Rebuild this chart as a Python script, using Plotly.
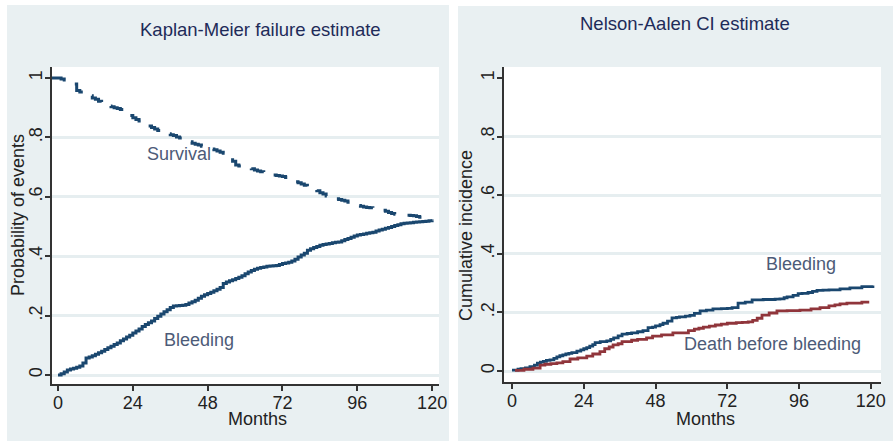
import plotly.graph_objects as go

# ---------------- data ----------------
km_surv_t = [-2] + list(range(1, 121))
km_surv_v = [1.000, 0.997, 0.993, 0.990, 0.985, 0.980, 0.958, 0.953, 0.948, 0.944, 0.940,
             0.933, 0.928, 0.922, 0.916, 0.910, 0.906, 0.903, 0.900, 0.897, 0.894,
             0.890, 0.882, 0.874, 0.866, 0.860, 0.855, 0.849, 0.843, 0.838, 0.833,
             0.828, 0.823, 0.818, 0.815, 0.812, 0.809, 0.806, 0.801, 0.798, 0.793,
             0.789, 0.785, 0.780, 0.777, 0.774, 0.770, 0.767, 0.764, 0.761, 0.758,
             0.754, 0.750, 0.747, 0.741, 0.733, 0.720, 0.707, 0.704, 0.701, 0.699,
             0.696, 0.694, 0.690, 0.687, 0.684, 0.681, 0.677, 0.675, 0.673, 0.672,
             0.670, 0.668, 0.665, 0.660, 0.656, 0.651, 0.647, 0.643, 0.639, 0.635,
             0.630, 0.626, 0.620, 0.614, 0.609, 0.603, 0.599, 0.596, 0.593, 0.591,
             0.588, 0.586, 0.582, 0.578, 0.574, 0.571, 0.568, 0.566, 0.564, 0.563,
             0.561, 0.560, 0.558, 0.555, 0.551, 0.547, 0.544, 0.541, 0.539, 0.539,
             0.538, 0.538, 0.537, 0.536, 0.534, 0.531, 0.528, 0.526, 0.524, 0.522]

km_bleed_t = list(range(0, 121))
km_bleed_v = [0.000, 0.004, 0.010, 0.017, 0.020, 0.023, 0.026, 0.030, 0.040, 0.057, 0.061,
              0.065, 0.070, 0.075, 0.080, 0.086, 0.092, 0.097, 0.103, 0.108, 0.115,
              0.121, 0.128, 0.134, 0.141, 0.148, 0.155, 0.163, 0.170, 0.176, 0.182,
              0.190, 0.198, 0.205, 0.213, 0.220, 0.227, 0.232, 0.233, 0.234, 0.235,
              0.237, 0.242, 0.247, 0.252, 0.258, 0.265, 0.270, 0.274, 0.279, 0.284,
              0.289, 0.295, 0.308, 0.313, 0.317, 0.321, 0.325, 0.329, 0.334, 0.341,
              0.347, 0.352, 0.356, 0.359, 0.362, 0.364, 0.366, 0.367, 0.368, 0.369,
              0.372, 0.375, 0.377, 0.380, 0.384, 0.390, 0.397, 0.404, 0.410, 0.420,
              0.425, 0.429, 0.433, 0.437, 0.439, 0.441, 0.443, 0.445, 0.447, 0.448,
              0.452, 0.456, 0.460, 0.464, 0.468, 0.471, 0.473, 0.475, 0.477, 0.479,
              0.481, 0.485, 0.488, 0.491, 0.494, 0.497, 0.500, 0.503, 0.506, 0.509,
              0.511, 0.512, 0.513, 0.514, 0.515, 0.516, 0.517, 0.518, 0.519, 0.521]

na_bleed_t = [0, 2, 3, 4.5, 6, 7.5, 8.5, 9.5, 10.5, 11.5, 12.7, 14, 15, 16, 17, 18, 19, 20, 21.7, 23, 24,
              25, 26, 27, 27.8, 29.5, 31.7, 33, 34, 35.5, 36.8, 38.5, 40, 42, 43.8, 45.5, 47, 48,
              49.5, 50.5, 52, 53.5, 55, 56, 58, 59.5, 61, 62.9, 65, 67.2, 70, 72, 73.6, 75.6, 78,
              80.3, 84, 88, 89.6, 91, 92, 94, 95.7, 97, 99, 100.5, 102, 104, 106, 109.7, 113, 117,
              120.7]
na_bleed_v = [0.003, 0.006, 0.008, 0.011, 0.015, 0.020, 0.027, 0.030, 0.033, 0.036, 0.038, 0.043,
              0.048, 0.052, 0.055, 0.058, 0.060, 0.063, 0.068, 0.072, 0.076, 0.080, 0.085, 0.090,
              0.097, 0.100, 0.103, 0.108, 0.113, 0.120, 0.126, 0.128, 0.130, 0.134, 0.138, 0.148,
              0.150, 0.154, 0.158, 0.163, 0.170, 0.181, 0.183, 0.185, 0.187, 0.190, 0.197, 0.205,
              0.208, 0.212, 0.213, 0.214, 0.216, 0.232, 0.235, 0.243, 0.244, 0.245, 0.246, 0.250,
              0.253, 0.258, 0.264, 0.265, 0.268, 0.272, 0.275, 0.276, 0.277, 0.280, 0.284, 0.288,
              0.292]

na_death_t = [1, 4, 7, 9.4, 11, 13, 15, 17, 19.4, 22, 25, 27, 29.4, 31, 32.5, 33.8, 35.5, 36.8, 40, 42,
              45, 47, 50, 53.8, 56, 59, 61, 62.5, 64, 66, 68, 70, 72, 75, 77, 79, 80.5, 82, 83.6, 86,
              88.6, 92, 96.3, 100, 103, 106, 108, 109.7, 112, 117, 119]
na_death_v = [0.002, 0.006, 0.010, 0.020, 0.023, 0.025, 0.028, 0.032, 0.041, 0.045, 0.051, 0.058,
              0.066, 0.076, 0.082, 0.089, 0.093, 0.100, 0.105, 0.108, 0.113, 0.119, 0.123, 0.130,
              0.130, 0.138, 0.143, 0.146, 0.150, 0.153, 0.157, 0.160, 0.163, 0.165, 0.166, 0.168,
              0.173, 0.180, 0.191, 0.198, 0.205, 0.206, 0.208, 0.212, 0.216, 0.222, 0.226, 0.229,
              0.232, 0.235, 0.240]

x_ticks = [0, 24, 48, 72, 96, 120]
y_ticks = [0, 0.2, 0.4, 0.6, 0.8, 1]
y_tick_text = ["0", ".2", ".4", ".6", ".8", "1"]
y_grid = [0, 0.2, 0.4, 0.6, 0.8]

# ---------------- styling ----------------
W, H = 893, 441
FONT = "Liberation Sans, Arial, sans-serif"
NAVY = "#1a476f"
MAROON = "#90353b"
PANEL = "#e9f0f2"
GRID = "#e6eef0"
AXIS = "#333333"
TITLE_C = "#1e2b59"
LABEL_C = "#4d5b78"


def px_x(p):
    return p / W


def px_y(p):
    return 1 - p / H


fig = go.Figure()

fig.add_trace(go.Scatter(x=km_surv_t, y=km_surv_v, mode="lines", line_shape="hv",
                         line=dict(color=NAVY, width=3, dash="16px,13px"),
                         xaxis="x", yaxis="y", showlegend=False))
fig.add_trace(go.Scatter(x=km_bleed_t, y=km_bleed_v, mode="lines", line_shape="hv",
                         line=dict(color=NAVY, width=3),
                         xaxis="x", yaxis="y", showlegend=False))
fig.add_trace(go.Scatter(x=na_bleed_t, y=na_bleed_v, mode="lines", line_shape="hv",
                         line=dict(color=NAVY, width=2.8),
                         xaxis="x2", yaxis="y2", showlegend=False))
fig.add_trace(go.Scatter(x=na_death_t, y=na_death_v, mode="lines", line_shape="hv",
                         line=dict(color=MAROON, width=2.8),
                         xaxis="x2", yaxis="y2", showlegend=False))

xa = dict(tickmode="array", tickvals=x_ticks, showgrid=False, zeroline=False,
          showline=True, linecolor=AXIS, linewidth=1.5, ticks="outside", ticklen=5,
          tickwidth=1.5, tickcolor=AXIS, tickfont=dict(family=FONT, size=18, color="#222222"),
          ticklabelstandoff=-3, automargin=False, fixedrange=True)
ya = dict(tickmode="array", tickvals=y_ticks, ticktext=y_tick_text, tickangle=-90,
          showgrid=False, zeroline=False, showline=True, linecolor=AXIS, linewidth=1.5,
          ticks="outside", ticklen=5, tickwidth=1.5, tickcolor=AXIS,
          tickfont=dict(family=FONT, size=18, color="#222222"),
          ticklabelstandoff=-4,
          minor=dict(tickmode="array", tickvals=y_grid, showgrid=True, gridcolor=GRID,
                     gridwidth=2.5, ticklen=0),
          automargin=False, fixedrange=True)

fig.update_layout(
    width=W, height=H, margin=dict(l=0, r=0, t=0, b=0),
    paper_bgcolor="white", plot_bgcolor="rgba(0,0,0,0)",
    xaxis=dict(xa, domain=[px_x(52), px_x(439)], range=[-1.92, 122.2], anchor="y"),
    yaxis=dict(ya, domain=[px_y(384), px_y(67)], range=[-0.0303, 1.037], anchor="x"),
    xaxis2=dict(xa, domain=[px_x(504), px_x(881)], range=[-2.68, 123.4], anchor="y2"),
    yaxis2=dict(ya, domain=[px_y(382), px_y(67)], range=[-0.0375, 1.0375], anchor="x2"),
    showlegend=False,
)

shapes = [
    dict(type="rect", xref="paper", yref="paper", x0=px_x(7), x1=px_x(449), y0=0, y1=px_y(5),
         fillcolor=PANEL, line=dict(width=0), layer="below"),
    dict(type="rect", xref="paper", yref="paper", x0=px_x(458), x1=1, y0=0, y1=px_y(6),
         fillcolor=PANEL, line=dict(width=0), layer="below"),
    dict(type="rect", xref="paper", yref="paper", x0=px_x(52), x1=px_x(439), y0=px_y(384), y1=px_y(67),
         fillcolor="white", line=dict(width=0), layer="below"),
    dict(type="rect", xref="paper", yref="paper", x0=px_x(504), x1=px_x(881), y0=px_y(382), y1=px_y(67),
         fillcolor="white", line=dict(width=0), layer="below"),
]
fig.update_layout(shapes=shapes)

ann = []
# panel titles
ann.append(dict(text="Kaplan-Meier failure estimate", xref="paper", yref="paper",
                x=px_x(260), y=px_y(30), showarrow=False, xanchor="center", yanchor="middle",
                font=dict(family=FONT, size=18.5, color=TITLE_C)))
ann.append(dict(text="Nelson-Aalen CI estimate", xref="paper", yref="paper",
                x=px_x(685), y=px_y(23), showarrow=False, xanchor="center", yanchor="middle",
                font=dict(family=FONT, size=18.5, color=TITLE_C)))
# axis titles
ann.append(dict(text="Months", xref="paper", yref="paper", x=px_x(257), y=px_y(419),
                showarrow=False, xanchor="center", yanchor="middle",
                font=dict(family=FONT, size=18, color="#222222")))
ann.append(dict(text="Months", xref="paper", yref="paper", x=px_x(705), y=px_y(419),
                showarrow=False, xanchor="center", yanchor="middle",
                font=dict(family=FONT, size=18, color="#222222")))
ann.append(dict(text="Probability of events", xref="paper", yref="paper", x=px_x(18), y=px_y(215),
                showarrow=False, textangle=-90, xanchor="center", yanchor="middle",
                font=dict(family=FONT, size=18, color="#222222")))
ann.append(dict(text="Cumulative incidence", xref="paper", yref="paper", x=px_x(466), y=px_y(236),
                showarrow=False, textangle=-90, xanchor="center", yanchor="middle",
                font=dict(family=FONT, size=18, color="#222222")))
# curve labels
ann.append(dict(text="Survival", xref="x", yref="y", x=38.8, y=0.744, showarrow=False,
                font=dict(family=FONT, size=18, color=LABEL_C)))
ann.append(dict(text="Bleeding", xref="x", yref="y", x=45.2, y=0.118, showarrow=False,
                font=dict(family=FONT, size=18, color=LABEL_C)))
ann.append(dict(text="Bleeding", xref="x2", yref="y2", x=96.5, y=0.365, showarrow=False,
                font=dict(family=FONT, size=18, color=LABEL_C)))
ann.append(dict(text="Death before bleeding", xref="x2", yref="y2", x=87.2, y=0.092, showarrow=False,
                font=dict(family=FONT, size=18, color=LABEL_C)))
fig.update_layout(annotations=ann)

fig.write_html("out.html", config={"displayModeBar": False},
               post_script="document.body.style.margin='0px';")
